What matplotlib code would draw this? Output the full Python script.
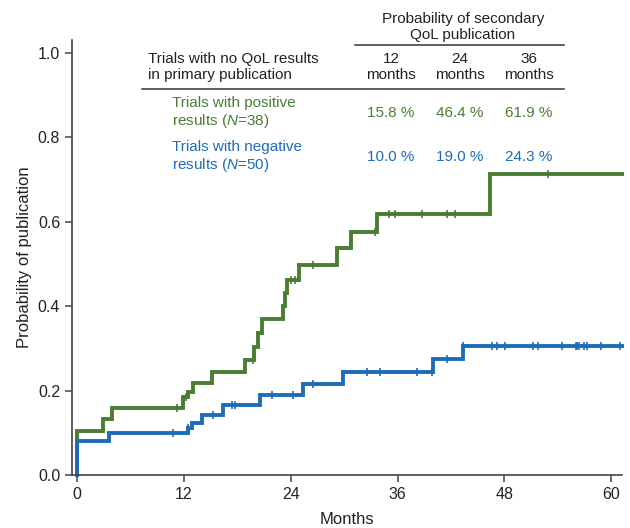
import matplotlib.pyplot as plt
import numpy as np
from matplotlib.lines import Line2D

plt.rcParams['font.family'] = ['Liberation Sans', 'DejaVu Sans']
plt.rcParams['mathtext.fontset'] = 'custom'
plt.rcParams['mathtext.rm'] = 'Liberation Sans'
plt.rcParams['mathtext.it'] = 'Liberation Sans:italic'

# step curves (months, probability)
pos_t = [0, 2.9, 3.9, 11.9, 12.5, 13.0, 15.2, 18.9, 19.9, 20.3, 20.8, 23.1, 23.4, 23.6, 24.9, 29.2, 30.8, 33.7, 46.4]
pos_p = [0.105, 0.132, 0.158, 0.184, 0.197, 0.218, 0.244, 0.272, 0.303, 0.336, 0.370, 0.400, 0.430, 0.462, 0.498, 0.538, 0.576, 0.618, 0.713]
pos_cens = [11.2, 12.2, 19.8, 24.0, 24.5, 26.5, 33.5, 35.0, 35.7, 38.7, 41.6, 42.4, 52.9]

neg_t = [0, 3.6, 12.5, 12.9, 14.0, 16.4, 20.6, 25.4, 29.9, 40.0, 43.3]
neg_p = [0.080, 0.100, 0.112, 0.123, 0.142, 0.166, 0.190, 0.216, 0.243, 0.275, 0.306]
neg_cens = [10.8, 12.5, 15.3, 17.4, 17.7, 21.9, 24.3, 26.5, 32.6, 34.0, 38.2, 39.9, 41.6,
            43.4, 46.6, 47.2, 48.1, 51.2, 51.8, 54.5, 56.0, 56.2, 56.4, 56.9, 57.3, 58.8, 61.0]
t_end = 61.2

months = ['12\nmonths', '24\nmonths', '36\nmonths']
pos_vals = ['15.8 %', '46.4 %', '61.9 %']
neg_vals = ['10.0 %', '19.0 %', '24.3 %']

green = '#4a7d33'
blue = '#1c6cba'
W, H = 630, 528

fig = plt.figure(figsize=(6.3, 5.28), dpi=100)
ax = fig.add_axes([72/W, 1-475/H, 550/W, 435/H])

def curve(t, p, cens, col):
    tt = np.r_[0, t, t_end]
    pp = np.r_[0, p, p[-1]]
    ax.step(tt, pp, where='post', color=col, lw=2.8, solid_joinstyle='miter', clip_on=False)
    idx = np.searchsorted(t, cens, side='right') - 1
    cv = np.array(p)[idx]
    ax.plot(cens, cv, ls='none', marker='|', ms=6, mew=1.2, color=col, clip_on=False)

curve(pos_t, pos_p, pos_cens, green)
curve(neg_t, neg_p, neg_cens, blue)

ax.set_xlim(-0.56, t_end)
ax.set_ylim(0, 1.03)
ax.set_xticks([0, 12, 24, 36, 48, 60])
ax.set_yticks([0.0, 0.2, 0.4, 0.6, 0.8, 1.0])
ax.set_yticklabels(['0.0', '0.2', '0.4', '0.6', '0.8', '1.0'])
for s in ['top', 'right']:
    ax.spines[s].set_visible(False)
for s in ['left', 'bottom']:
    ax.spines[s].set_color('#444444')
    ax.spines[s].set_linewidth(1.2)
ax.tick_params(colors='#444444', labelcolor='#222222', labelsize=11.5, length=5, width=1.1)
ax.set_xlabel('Months', fontsize=12, color='#222222', labelpad=7)
ax.set_ylabel('Probability of publication', fontsize=12, color='#222222', labelpad=4)

def tx(x, y, s, **kw):
    fig.text(x/W, 1-y/H, s, fontsize=11, va='center', linespacing=1.1, **kw)

def hline(x0, x1, y):
    fig.add_artist(Line2D([x0/W, x1/W], [1-y/H, 1-y/H], color='#333333', lw=1.1))

tx(463, 27, 'Probability of secondary\nQoL publication', ha='center', color='#222222')
hline(355, 564, 45)
tx(148, 67, 'Trials with no QoL results\nin primary publication', ha='left', color='#222222')
for i, m in enumerate(months):
    tx(391 + i*69, 67, m, ha='center', color='#222222')
hline(142, 564, 89)
tx(172, 113, 'Trials with positive\nresults ($N$=38)', ha='left', color=green)
tx(172, 157, 'Trials with negative\nresults ($N$=50)', ha='left', color=blue)
for i in range(3):
    tx(391 + i*69, 113, pos_vals[i], ha='center', color=green)
    tx(391 + i*69, 157, neg_vals[i], ha='center', color=blue)

fig.savefig('out.png', dpi=100)
